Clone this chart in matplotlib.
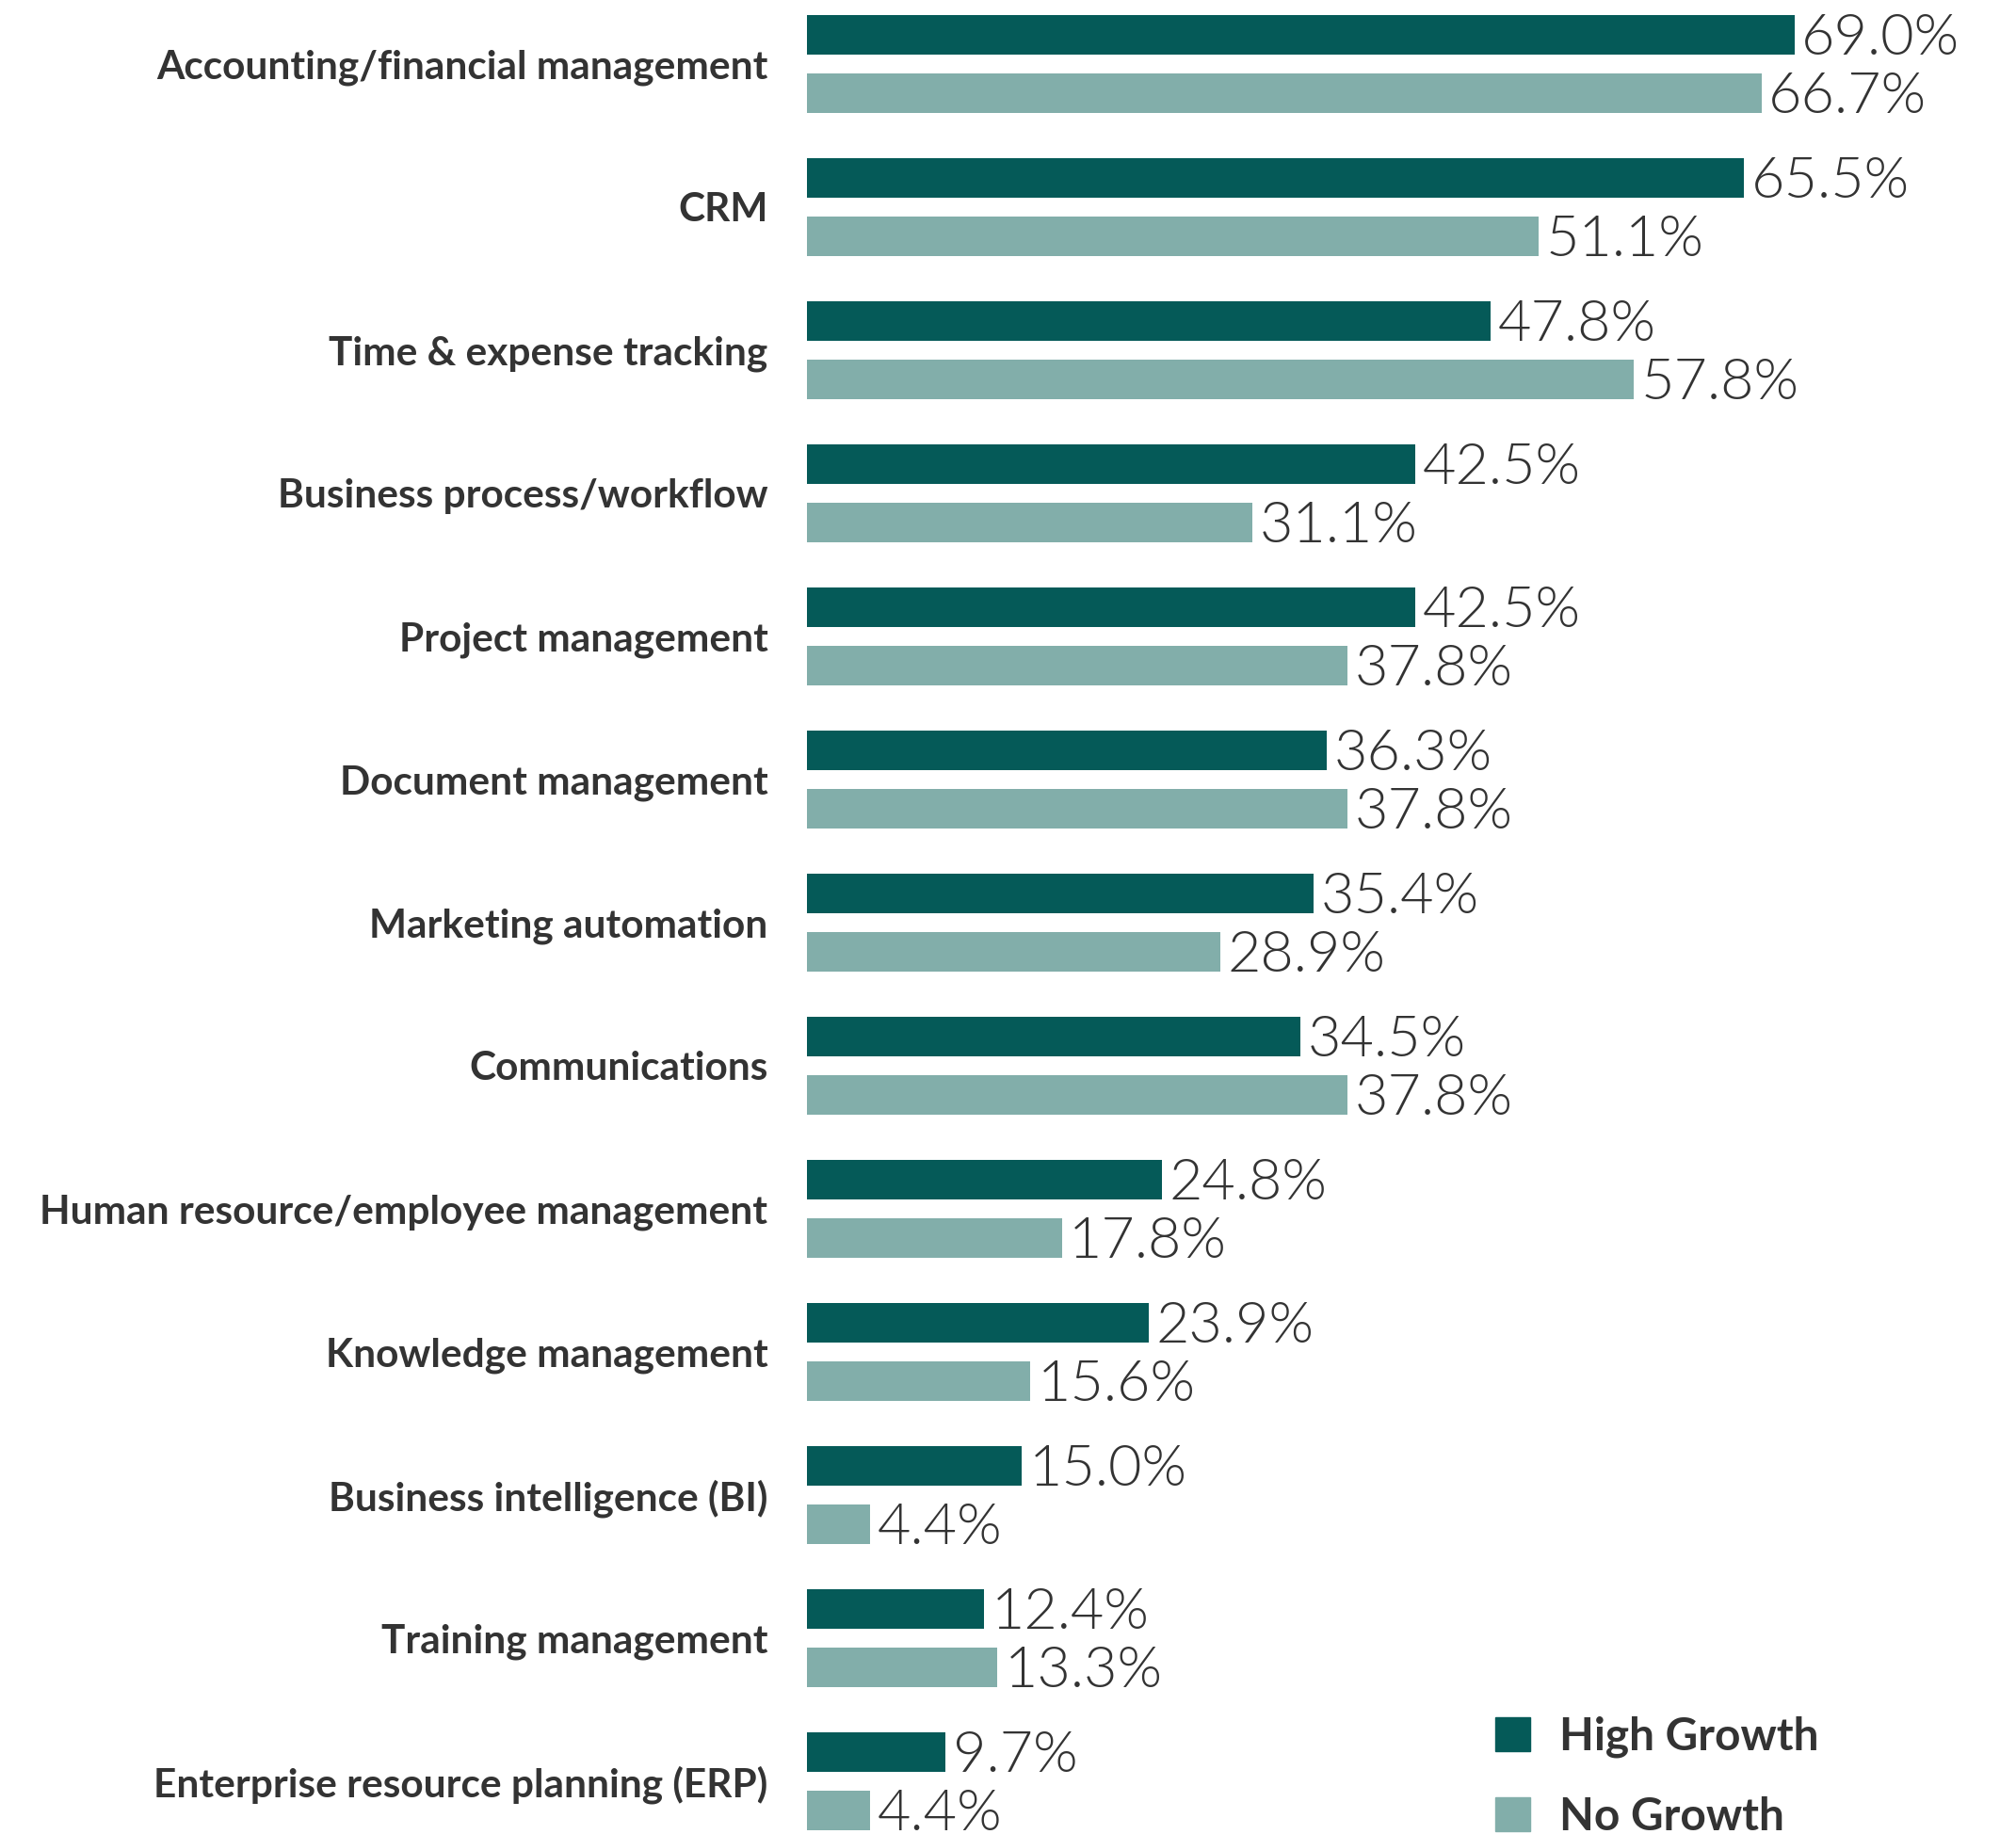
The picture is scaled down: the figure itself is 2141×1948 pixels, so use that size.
import numpy as np
import matplotlib
matplotlib.use("Agg")
import matplotlib.pyplot as plt
from matplotlib.patches import Patch

categories = [
    "Accounting/financial management",
    "CRM",
    "Time & expense tracking",
    "Business process/workflow",
    "Project management",
    "Document management",
    "Marketing automation",
    "Communications",
    "Human resource/employee management",
    "Knowledge management",
    "Business intelligence (BI)",
    "Training management",
    "Enterprise resource planning (ERP)",
]
high_growth = [69.0, 65.5, 47.8, 42.5, 42.5, 36.3, 35.4, 34.5, 24.8, 23.9, 15.0, 12.4, 9.7]
no_growth = [66.7, 51.1, 57.8, 31.1, 37.8, 37.8, 28.9, 37.8, 17.8, 15.6, 4.4, 13.3, 4.4]
series_names = ["High Growth", "No Growth"]

dark = "#055a58"
light = "#82aeaa"
text_col = "#333333"

fig = plt.figure(figsize=(21.41, 19.48), dpi=100)
ax = fig.add_axes([0.4003, 0.0, 0.5678, 1.0])

y = np.arange(len(categories))
off = 0.2025
h = 0.276
b1 = ax.barh(y - off, high_growth, height=h, color=dark)
b2 = ax.barh(y + off, no_growth, height=h, color=light)

# value labels next to each bar
for bars, vals in [(b1, high_growth), (b2, no_growth)]:
    for bar, v in zip(bars, vals):
        ax.text(v + 0.5, bar.get_y() + bar.get_height() / 2 + 0.03, f"{v:.1f}%",
                va="center", ha="left", fontsize=44, fontfamily="Lato",
                fontweight=300, color=text_col)

ax.set_xlim(0, 80)
ax.set_ylim(12.37, -0.447)
ax.set_yticks(y)
ax.set_yticklabels(categories, fontsize=30.5, fontfamily="Lato", fontweight="bold",
                   color=text_col)
ax.tick_params(axis="y", length=0, pad=30)
ax.set_xticks([])
for s in ax.spines.values():
    s.set_visible(False)

handles = [Patch(color=dark), Patch(color=light)]
fig.legend(handles, series_names, loc="upper left", bbox_to_anchor=(0.7305, 0.0768),
           frameon=False, prop={"family": "Lato", "weight": "bold", "size": 34.4},
           handlelength=0.78, handleheight=0.78, handletextpad=0.64,
           labelspacing=0.86, borderpad=0, labelcolor=text_col)

fig.savefig("out.png", dpi=100)
